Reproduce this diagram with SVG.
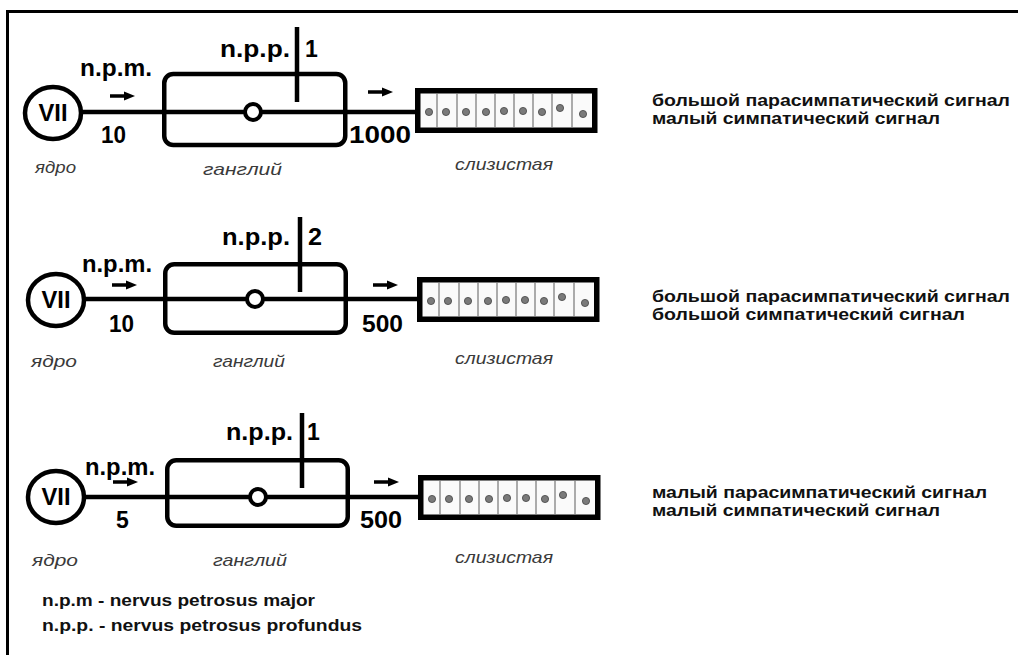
<svg xmlns="http://www.w3.org/2000/svg" xmlns:xlink="http://www.w3.org/1999/xlink" width="1018" height="655" viewBox="0 0 1018 655">
<style>
.lbl{font-family:"Liberation Sans",Arial,sans-serif;font-weight:bold;font-size:23px;fill:#000}
.it{font-family:"Liberation Sans",Arial,sans-serif;font-style:italic;font-size:17px;fill:#3a3a3a}
.rt{font-family:"Liberation Sans",Arial,sans-serif;font-weight:bold;font-size:16px;fill:#111}
.nerve{fill:none;stroke:#000;stroke-width:4.5}
.gang{fill:none;stroke:#000;stroke-width:4.5}
.nuc{fill:#fff;stroke:#000;stroke-width:4.5}
.cell{fill:#fff;stroke:#000;stroke-width:4}
</style>
<defs>
<g id="muc">
<rect x="2.75" y="2.75" width="177" height="39.5" fill="#fafafa" stroke="#000" stroke-width="5.5"/>
<g stroke="#777" stroke-width="1.2">
<path d="M22 5.5V39.5M42 5.5V39.5M61 5.5V39.5M80 5.5V39.5M99 5.5V39.5M118 5.5V39.5M137 5.5V39.5M157 5.5V39.5"/>
</g>
<g fill="#7a7a7a" stroke="#444" stroke-width="0.8">
<circle cx="14" cy="24" r="3.6"/><circle cx="31" cy="24" r="3.6"/><circle cx="51" cy="24" r="3.6"/>
<circle cx="71" cy="24" r="3.6"/><circle cx="89" cy="23" r="3.6"/><circle cx="108" cy="23" r="3.6"/>
<circle cx="127" cy="24" r="3.6"/><circle cx="145" cy="20" r="3.6"/><circle cx="168" cy="26" r="3.6"/>
</g>
</g>
<g id="arr">
<path d="M0 0H17" stroke="#000" stroke-width="3.5"/>
<polygon points="14,-4.5 25,0 14,4.5" fill="#000"/>
</g>
</defs>

<rect width="1018" height="655" fill="#fff"/>
<path d="M7.5 655V11.5H1018" fill="none" stroke="#000" stroke-width="3"/>

<g id="connectors">
<path class="nerve" d="M81 112H419M297 27V102"/>
<path class="nerve" d="M84 299H421M300 217V292"/>
<path class="nerve" d="M84 497H422M302 413V488"/>
<use xlink:href="#arr" href="#arr" x="110" y="96"/>
<use xlink:href="#arr" href="#arr" x="368" y="92"/>
<use xlink:href="#arr" href="#arr" x="112" y="285"/>
<use xlink:href="#arr" href="#arr" x="373" y="285"/>
<use xlink:href="#arr" href="#arr" x="113" y="482"/>
<use xlink:href="#arr" href="#arr" x="374" y="482"/>
</g>

<!-- Row 1 -->
<g id="r1-nucleus">
<ellipse class="nuc" cx="53" cy="113" rx="28" ry="26"/>
<text class="lbl" x="53" y="121" text-anchor="middle" textLength="29" lengthAdjust="spacingAndGlyphs">VII</text>
<text class="it" x="35" y="173" textLength="41" lengthAdjust="spacingAndGlyphs">ядро</text>
</g>
<g id="r1-ganglion">
<rect class="gang" x="164.25" y="74" width="181" height="71" rx="9"/>
<circle class="cell" cx="253" cy="112" r="8"/>
<text class="it" x="203" y="175" textLength="79" lengthAdjust="spacingAndGlyphs">ганглий</text>
</g>
<g id="r1-mucosa">
<use xlink:href="#muc" href="#muc" x="415" y="88"/>
<text class="it" x="455" y="170" textLength="98" lengthAdjust="spacingAndGlyphs">слизистая</text>
</g>
<g id="r1-labels">
<text class="lbl" x="80" y="76" textLength="72" lengthAdjust="spacingAndGlyphs">n.p.m.</text>
<text class="lbl" x="220" y="57" textLength="70" lengthAdjust="spacingAndGlyphs">n.p.p.</text>
<text class="lbl" x="305" y="57">1</text>
<text class="lbl" x="101" y="143" textLength="25" lengthAdjust="spacingAndGlyphs">10</text>
<text class="lbl" x="349" y="143" textLength="62" lengthAdjust="spacingAndGlyphs">1000</text>
</g>
<g id="r1-signal">
<text class="rt" x="652" y="106" textLength="358" lengthAdjust="spacingAndGlyphs">большой парасимпатический сигнал</text>
<text class="rt" x="652" y="124" textLength="288" lengthAdjust="spacingAndGlyphs">малый симпатический сигнал</text>
</g>

<!-- Row 2 -->
<g id="r2-nucleus">
<ellipse class="nuc" cx="56" cy="300" rx="28" ry="26"/>
<text class="lbl" x="56" y="308" text-anchor="middle" textLength="29" lengthAdjust="spacingAndGlyphs">VII</text>
<text class="it" x="31" y="367" textLength="46" lengthAdjust="spacingAndGlyphs">ядро</text>
</g>
<g id="r2-ganglion">
<rect class="gang" x="165.25" y="264.25" width="180.5" height="68.5" rx="9"/>
<circle class="cell" cx="255" cy="299" r="8"/>
<text class="it" x="213" y="367" textLength="72" lengthAdjust="spacingAndGlyphs">ганглий</text>
</g>
<g id="r2-mucosa">
<use xlink:href="#muc" href="#muc" x="417" y="277"/>
<text class="it" x="455" y="364" textLength="98" lengthAdjust="spacingAndGlyphs">слизистая</text>
</g>
<g id="r2-labels">
<text class="lbl" x="82" y="272" textLength="70" lengthAdjust="spacingAndGlyphs">n.p.m.</text>
<text class="lbl" x="222" y="245" textLength="68" lengthAdjust="spacingAndGlyphs">n.p.p.</text>
<text class="lbl" x="308" y="245" textLength="14" lengthAdjust="spacingAndGlyphs">2</text>
<text class="lbl" x="109" y="332" textLength="25" lengthAdjust="spacingAndGlyphs">10</text>
<text class="lbl" x="362" y="332" textLength="41" lengthAdjust="spacingAndGlyphs">500</text>
</g>
<g id="r2-signal">
<text class="rt" x="652" y="302" textLength="358" lengthAdjust="spacingAndGlyphs">большой парасимпатический сигнал</text>
<text class="rt" x="652" y="320" textLength="313" lengthAdjust="spacingAndGlyphs">большой симпатический сигнал</text>
</g>

<!-- Row 3 -->
<g id="r3-nucleus">
<ellipse class="nuc" cx="56" cy="497" rx="28" ry="26"/>
<text class="lbl" x="56" y="505" text-anchor="middle" textLength="29" lengthAdjust="spacingAndGlyphs">VII</text>
<text class="it" x="32" y="566" textLength="46" lengthAdjust="spacingAndGlyphs">ядро</text>
</g>
<g id="r3-ganglion">
<rect class="gang" x="167.25" y="460.25" width="180.5" height="65.5" rx="9"/>
<circle class="cell" cx="258" cy="497" r="8"/>
<text class="it" x="213" y="566" textLength="74" lengthAdjust="spacingAndGlyphs">ганглий</text>
</g>
<g id="r3-mucosa">
<use xlink:href="#muc" href="#muc" x="418" y="475"/>
<text class="it" x="455" y="563" textLength="98" lengthAdjust="spacingAndGlyphs">слизистая</text>
</g>
<g id="r3-labels">
<text class="lbl" x="85" y="475" textLength="70" lengthAdjust="spacingAndGlyphs">n.p.m.</text>
<text class="lbl" x="226" y="440" textLength="67" lengthAdjust="spacingAndGlyphs">n.p.p.</text>
<text class="lbl" x="307" y="440">1</text>
<text class="lbl" x="116" y="528">5</text>
<text class="lbl" x="360" y="528" textLength="42" lengthAdjust="spacingAndGlyphs">500</text>
</g>
<g id="r3-signal">
<text class="rt" x="652" y="498" textLength="335" lengthAdjust="spacingAndGlyphs">малый парасимпатический сигнал</text>
<text class="rt" x="652" y="516" textLength="288" lengthAdjust="spacingAndGlyphs">малый симпатический сигнал</text>
</g>

<g id="legend">
<text class="rt" x="42" y="606" textLength="273" lengthAdjust="spacingAndGlyphs">n.p.m - nervus petrosus major</text>
<text class="rt" x="42" y="631" textLength="320" lengthAdjust="spacingAndGlyphs">n.p.p. - nervus petrosus profundus</text>
</g>
</svg>
